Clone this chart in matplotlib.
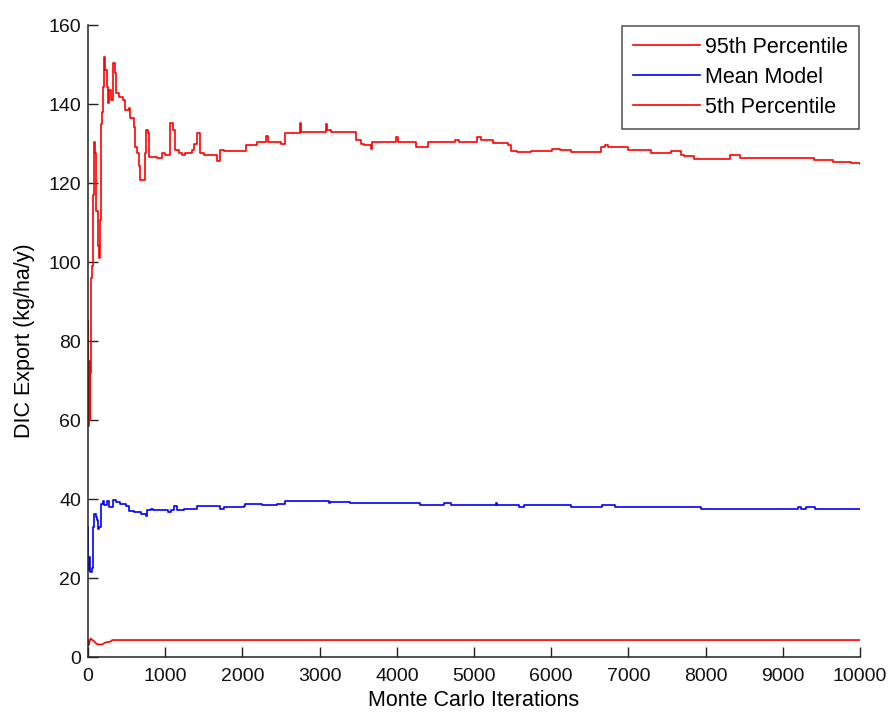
#!/usr/bin/env python3

"""
Monte Carlo convergence plot for DIC export:
95th percentile, mean model and 5th percentile against iteration count.
"""

import matplotlib
matplotlib.use("Agg")
import matplotlib.pyplot as plt

# 95th percentile (iteration, kg/ha/y)
P95_ITER = [0, 5, 10, 20, 30, 43, 52, 65, 82, 95, 108, 130, 147, 160, 173, 181,
            194, 212, 225, 240, 259, 276, 302, 320, 345, 363, 397, 449, 484, 527,
            548, 592, 613, 635, 656, 678, 734, 743, 756, 773, 786, 829, 894, 958,
            1002, 1045, 1066, 1097, 1123, 1175, 1218, 1261, 1347, 1369, 1413, 1455,
            1500, 1670, 1715, 1760, 2020, 2040, 2150, 2190, 2234, 2300, 2330, 2500,
            2558, 2740, 2760, 3012, 3077, 3100, 3141, 3425, 3465, 3530, 3570, 3660,
            3681, 3960, 3990, 4020, 4245, 4307, 4400, 4720, 4750, 4800, 5041, 5085,
            5250, 5434, 5473, 5563, 5732, 5990, 6010, 6120, 6250, 6600, 6650, 6700,
            6740, 6990, 7290, 7415, 7550, 7675, 7715, 7845, 8280, 8320, 8450, 9100,
            9400, 9655, 9880, 10000]
P95_VAL = [85, 58.5, 75, 60, 72, 96, 99, 117, 130.5, 127.5, 113, 104, 101, 110.7,
           135, 138, 144.4, 152, 148.6, 144.4, 140.2, 143.6, 141, 150.3, 147.8,
           142.7, 141.9, 141, 138.5, 138.9, 136.4, 134.3, 129.2, 127.5, 124.2,
           120.8, 120.8, 127.5, 133.4, 132.6, 126.7, 126.5, 126.3, 127.5, 127, 127,
           135.1, 133.4, 128.4, 127.5, 127.1, 127.5, 128.4, 130, 132.6, 127.5, 127,
           125.7, 128.4, 128, 128, 129.6, 129.6, 130.5, 130.5, 132, 130.5, 129.9,
           132.6, 135.1, 133, 133, 134.9, 133.5, 133, 133, 131, 130, 129.7, 128.6,
           130.5, 130.5, 131.6, 130.5, 129.2, 129.2, 130.5, 130.5, 131, 130.5,
           131.6, 131, 130.2, 129.6, 128.2, 127.9, 128.2, 128.2, 128.6, 128.4,
           127.9, 127.9, 129, 129.6, 129, 128.4, 127.5, 127.5, 128, 127.2, 126.8,
           126, 126, 127, 126.3, 126.3, 125.9, 125.4, 125, 124.7]

# Mean model
MEAN_ITER = [0, 5, 14, 30, 56, 65, 80, 97, 120, 135, 145, 166, 188, 210, 240, 275,
             318, 361, 420, 490, 534, 600, 680, 750, 770, 810, 840, 980, 1030, 1070,
             1110, 1155, 1200, 1240, 1370, 1415, 1670, 1715, 1760, 1890, 2020, 2030,
             2250, 2450, 2558, 2816, 3120, 3140, 3400, 3430, 4048, 4220, 4300, 4610,
             4700, 5280, 5300, 5560, 5580, 5650, 6240, 6250, 6640, 6660, 6810, 6830,
             7912, 7935, 9185, 9200, 9230, 9300, 9420, 10000]
MEAN_VAL = [33, 22, 25.4, 21.5, 22.5, 33, 36.3, 35.4, 34.6, 32.5, 33, 38.75, 39.6,
            38.5, 39.6, 38, 39.8, 39.2, 38.8, 38.3, 37, 36.7, 36.3, 35.6, 37.1, 37.5,
            37.1, 37.1, 36.7, 37.1, 38.3, 37.25, 37.25, 37.5, 37.5, 38.3, 38.3, 37.5,
            38.1, 38.1, 38.3, 38.75, 38.5, 38.75, 39.4, 39.4, 39.0, 39.3, 39.0, 38.9,
            38.9, 38.9, 38.5, 38.9, 38.5, 38.9, 38.5, 38.5, 38.1, 38.5, 38.5, 38.1,
            38.1, 38.5, 38.5, 38.1, 38.1, 37.6, 37.6, 38.0, 37.6, 38.0, 37.6, 37.6]

# 5th percentile
P05_ITER = [0, 10, 32, 75, 119, 184, 227, 291, 313, 10000]
P05_VAL = [4.3, 3.0, 4.7, 4.05, 3.2, 3.2, 3.7, 3.9, 4.3, 4.3]

X_TICKS = list(range(0, 10001, 1000))
Y_TICKS = list(range(0, 161, 20))

FONT = "Liberation Sans"
TICK_SIZE = 14
LABEL_SIZE = 15.5


def main():
    plt.rcParams["font.family"] = [FONT, "DejaVu Sans"]
    plt.rcParams["font.size"] = TICK_SIZE

    fig = plt.figure(figsize=(8.9, 7.13), dpi=100)
    ax = fig.add_axes([0.0989, 0.0785, 0.8674, 0.8864])

    # the running statistics change in jumps, so draw them as steps
    ax.plot(P95_ITER, P95_VAL, color="#ff0000", lw=1.2, drawstyle="steps-post",
            label="95th Percentile")
    ax.plot(MEAN_ITER, MEAN_VAL, color="#0000ff", lw=1.2, drawstyle="steps-post",
            label="Mean Model")
    ax.plot(P05_ITER, P05_VAL, color="#ff0000", lw=1.2, label="5th Percentile")

    ax.set_xlim(0, 10000)
    ax.set_ylim(0, 160)
    ax.set_xticks(X_TICKS)
    ax.set_yticks(Y_TICKS)
    ax.tick_params(direction="in", length=7, width=1, colors="#222222",
                   labelcolor="#111111", labelsize=TICK_SIZE)
    ax.tick_params(axis="x", pad=8)
    ax.tick_params(axis="y", pad=5)

    for side in ("top", "right"):
        ax.spines[side].set_visible(False)
    for side in ("left", "bottom"):
        ax.spines[side].set_linewidth(1.1)
        ax.spines[side].set_color("#222222")

    ax.set_xlabel("Monte Carlo Iterations", fontsize=LABEL_SIZE, labelpad=3.5)
    ax.set_ylabel("DIC Export (kg/ha/y)", fontsize=LABEL_SIZE, labelpad=9.5)

    leg = ax.legend(loc="upper right", fontsize=LABEL_SIZE, frameon=True,
                    fancybox=False, borderaxespad=0.05, handlelength=3.1,
                    handletextpad=0.25, labelspacing=0.42, borderpad=0.5)
    leg.get_frame().set_edgecolor("#222222")
    leg.get_frame().set_linewidth(1.1)

    fig.savefig("out.png", dpi=100)


if __name__ == "__main__":
    main()
